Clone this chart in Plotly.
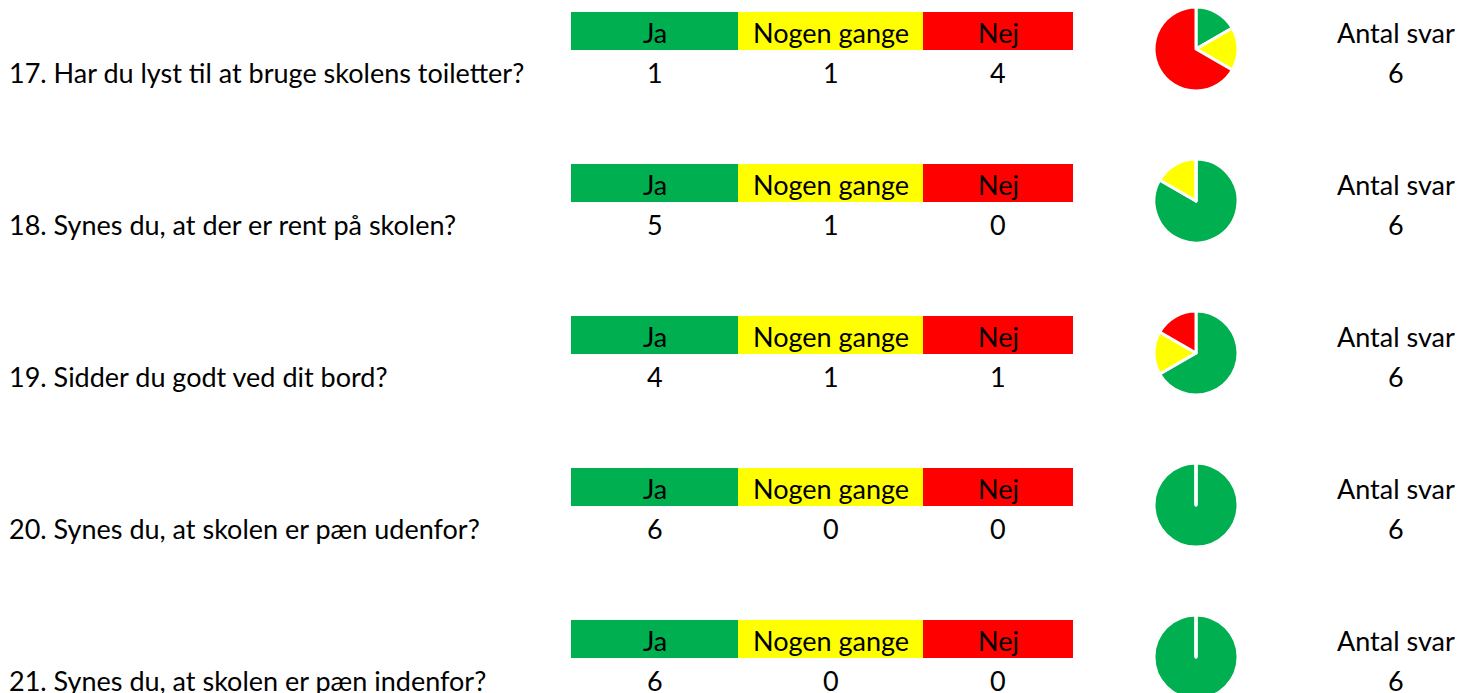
import plotly.graph_objects as go

questions = [
    "17. Har du lyst til at bruge skolens toiletter?",
    "18. Synes du, at der er rent på skolen?",
    "19. Sidder du godt ved dit bord?",
    "20. Synes du, at skolen er pæn udenfor?",
    "21. Synes du, at skolen er pæn indenfor?",
]
categories = ["Ja", "Nogen gange", "Nej"]
ja = [1, 5, 4, 6, 6]
nogen = [1, 1, 1, 0, 0]
nej = [4, 0, 1, 0, 0]
total_label = "Antal svar"

colors = ["#00B050", "#FFFF00", "#FF0000"]
W, H = 1470, 702
FONT = "Lato"
FS = 27
ROW = 152
cell_x = [(571, 738), (738, 923), (923, 1073)]

fig = go.Figure()
fig.add_trace(go.Scatter(x=[0], y=[0], mode="markers", marker=dict(opacity=0), showlegend=False, hoverinfo="skip"))

shapes = []
annotations = []
for i, q in enumerate(questions):
    off = ROW * i
    vals = [ja[i], nogen[i], nej[i]]
    annotations.append(dict(x=7, y=72 + off, text=q, xanchor="left", yanchor="middle", showarrow=False,
                            font=dict(family=FONT, size=FS, color="black")))
    for j, (cat, (x0, x1)) in enumerate(zip(categories, cell_x)):
        shapes.append(dict(type="rect", x0=x0, x1=x1, y0=12 + off, y1=50 + off, fillcolor=colors[j],
                           line=dict(width=0), layer="below"))
        annotations.append(dict(x=(x0 + x1) / 2, y=32 + off, text=cat, xanchor="center", yanchor="middle",
                                showarrow=False, font=dict(family=FONT, size=FS, color="black")))
        annotations.append(dict(x=(x0 + x1) / 2, y=72 + off, text=str(vals[j]), xanchor="center", yanchor="middle",
                                showarrow=False, font=dict(family=FONT, size=FS, color="black")))
    annotations.append(dict(x=1396, y=32 + off, text=total_label, xanchor="center", yanchor="middle",
                            showarrow=False, font=dict(family=FONT, size=FS, color="black")))
    annotations.append(dict(x=1396, y=72 + off, text=str(sum(vals)), xanchor="center", yanchor="middle",
                            showarrow=False, font=dict(family=FONT, size=FS, color="black")))
    cy = 49 + off
    r = 42
    y_top = cy - r
    y_bot = min(cy + r, H)
    fig.add_trace(go.Pie(
        values=vals, labels=categories, sort=False, direction="clockwise", rotation=0,
        marker=dict(colors=colors, line=dict(color="white", width=3)),
        textinfo="none", hoverinfo="label+value", showlegend=False,
        domain=dict(x=[(1196 - r) / W, (1196 + r) / W], y=[1 - y_bot / H, 1 - y_top / H]),
    ))
    if max(vals) == sum(vals):
        shapes.append(dict(type="line", x0=1196, x1=1196, y0=cy, y1=y_top - 1,
                           line=dict(color="white", width=3), layer="above"))

fig.update_layout(
    width=W, height=H, margin=dict(l=0, r=0, t=0, b=0),
    paper_bgcolor="white", plot_bgcolor="white",
    xaxis=dict(range=[0, W], visible=False, fixedrange=True),
    yaxis=dict(range=[H, 0], visible=False, fixedrange=True),
    shapes=shapes, annotations=annotations,
)
fig.write_html("out.html", config=dict(displayModeBar=False),
               post_script="document.body.style.margin='0';document.body.style.overflow='hidden';"
                           "document.documentElement.style.overflow='hidden';")
